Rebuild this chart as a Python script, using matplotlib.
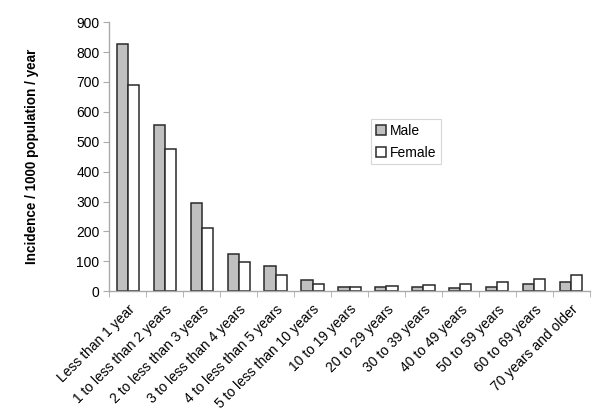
import matplotlib
matplotlib.use("Agg")
import matplotlib.pyplot as plt
import matplotlib.transforms as mtransforms
import numpy as np

categories = ["Less than 1 year", "1 to less than 2 years", "2 to less than 3 years",
              "3 to less than 4 years", "4 to less than 5 years", "5 to less than 10 years",
              "10 to 19 years", "20 to 29 years", "30 to 39 years", "40 to 49 years",
              "50 to 59 years", "60 to 69 years", "70 years and older"]
male = [827, 557, 296, 125, 85, 38, 14, 14, 14, 11, 14, 24, 31]
female = [690, 475, 211, 98, 55, 24, 14, 18, 22, 24, 31, 41, 55]
yticks = [0, 100, 200, 300, 400, 500, 600, 700, 800, 900]

plt.rcParams['font.family'] = ['Liberation Sans', 'DejaVu Sans']

fig = plt.figure(figsize=(6.0, 4.19), dpi=100)
ax = fig.add_axes([0.182, 0.305, 0.801, 0.642])

x = np.arange(len(categories))
w = 0.3
edge = '#2a2a2a'
ax.bar(x - w/2, male, width=w, color='#c0c0c0', edgecolor=edge, linewidth=1.1, label='Male')
ax.bar(x + w/2, female, width=w, color='white', edgecolor=edge, linewidth=1.1, label='Female')

ax.set_xlim(-0.5, len(categories) - 0.5)
ax.set_ylim(0, 900)
ax.set_yticks(yticks)
ax.set_yticklabels([str(v) for v in yticks], fontsize=10)
ax.set_xticks(x)
ax.set_xticklabels(categories, rotation=45, ha='right', va='top', rotation_mode='anchor', fontsize=10)
offset = mtransforms.ScaledTranslation(-7/72, 0, fig.dpi_scale_trans)
for lab in ax.get_xticklabels():
    lab.set_transform(lab.get_transform() + offset)
ax.set_xticks(np.arange(len(categories) + 1) - 0.5, minor=True)
ax.tick_params(axis='x', which='major', length=0, pad=8)
ax.tick_params(axis='x', which='minor', length=4, color='#aaaaaa', direction='out')
ax.tick_params(axis='y', length=4, color='#aaaaaa', direction='out', pad=3)

for s in ['top', 'right']:
    ax.spines[s].set_visible(False)
for s in ['left', 'bottom']:
    ax.spines[s].set_color('#aaaaaa')
    ax.spines[s].set_linewidth(1.0)

ax.set_ylabel('Incidence / 1000 population / year', fontsize=9.75, fontweight='bold', labelpad=27)

leg = ax.legend(loc='upper left', bbox_to_anchor=(0.545, 0.64), fontsize=10, frameon=True,
                fancybox=False, edgecolor='#cccccc', handlelength=0.7, handleheight=0.7,
                handletextpad=0.3, borderpad=0.35, labelspacing=0.55, borderaxespad=0)
leg.get_frame().set_linewidth(0.8)

fig.savefig('out.png', dpi=100)
